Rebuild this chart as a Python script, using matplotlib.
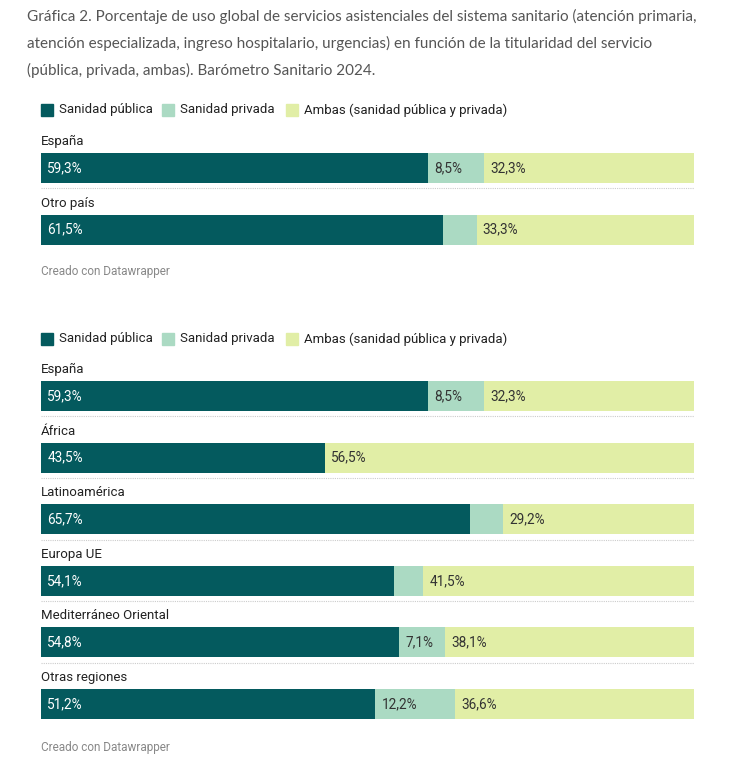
import numpy as np
import matplotlib
matplotlib.use('Agg')
import matplotlib.pyplot as plt
from matplotlib.patches import Rectangle

# data
series = ['Sanidad pública', 'Sanidad privada', 'Ambas (sanidad pública y privada)']
colors = ['#045a5e', '#abdac3', '#e1eea6']
txt_colors = ['white', '#333333', '#333333']

cats1 = ['España', 'Otro país']
publica1 = [59.3, 61.5]
privada1 = [8.5, 5.2]
ambas1 = [32.3, 33.3]
show1 = [[True, True, True], [True, False, True]]

cats2 = ['España', 'África', 'Latinoamérica', 'Europa UE', 'Mediterráneo Oriental', 'Otras regiones']
publica2 = [59.3, 43.5, 65.7, 54.1, 54.8, 51.2]
privada2 = [8.5, 0.0, 5.1, 4.4, 7.1, 12.2]
ambas2 = [32.3, 56.5, 29.2, 41.5, 38.1, 36.6]
show2 = [[True, True, True], [True, False, True], [True, False, True],
         [True, False, True], [True, True, True], [True, True, True]]

title = ('Gráfica 2. Porcentaje de uso global de servicios asistenciales del sistema sanitario (atención primaria,\n'
         'atención especializada, ingreso hospitalario, urgencias) en función de la titularidad del servicio\n'
         '(pública, privada, ambas). Barómetro Sanitario 2024.')

W, H = 742, 769
fig = plt.figure(figsize=(W / 100, H / 100), dpi=100)
fig.patch.set_facecolor('white')

fig.text(27 / W, 1 - 9 / H, title, ha='left', va='top', fontsize=11,
         family='Lato', color='#555555', linespacing=2.0)

X0, X1 = 41, 694
STEP = 61.6
BAR_H = 30 / STEP


def fmt(v):
    return f'{v:.1f}'.replace('.', ',') + '%'


def legend(ytop):
    xs = [41, 162, 286]
    for i, s in enumerate(series):
        fig.patches.append(Rectangle((xs[i] / W, 1 - (ytop + 12) / H), 12 / W, 12 / H,
                                     transform=fig.transFigure, color=colors[i]))
        fig.text((xs[i] + 18) / W, 1 - (ytop + 6) / H, s, ha='left', va='center',
                 fontsize=9.5, family='Roboto', color='#222222')


def group(cats, pub, priv, amb, show, c0, credit_y):
    n = len(cats)
    top = c0 - 0.7 * STEP
    bottom = c0 + (n - 1 + 0.5) * STEP
    ax = fig.add_axes([X0 / W, 1 - bottom / H, (X1 - X0) / W, (bottom - top) / H])
    ax.set_xlim(0, 100)
    ax.set_ylim(n - 1 + 0.5, -0.7)
    ax.axis('off')
    y = np.arange(n)
    vals = np.array([pub, priv, amb])
    left = np.zeros(n)
    for k in range(3):
        ax.barh(y, vals[k], left=left, height=BAR_H, color=colors[k], linewidth=0)
        for i in range(n):
            if show[i][k] and vals[k][i] > 0:
                ax.text(left[i] + 0.95, y[i], fmt(vals[k][i]), ha='left', va='center',
                        fontsize=9.8, family='Roboto', color=txt_colors[k])
        left = left + vals[k]
    for i in range(n):
        ax.text(0, y[i] - 0.43, cats[i], ha='left', va='center', fontsize=9.5,
                family='Roboto', color='#222222')
        if i < n - 1:
            ax.plot([0, 100], [y[i] + 0.33, y[i] + 0.33], color='#cccccc',
                    linestyle=(0, (1, 1)), linewidth=0.8)
    fig.text(X0 / W, 1 - credit_y / H, 'Creado con Datawrapper', ha='left', va='center',
             fontsize=8.5, family='Roboto', color='#888888')


legend(104)
group(cats1, publica1, privada1, ambas1, show1, 168, 272)
legend(333)
group(cats2, publica2, privada2, ambas2, show2, 396, 747)

fig.savefig('out.png', dpi=100, facecolor='white')
